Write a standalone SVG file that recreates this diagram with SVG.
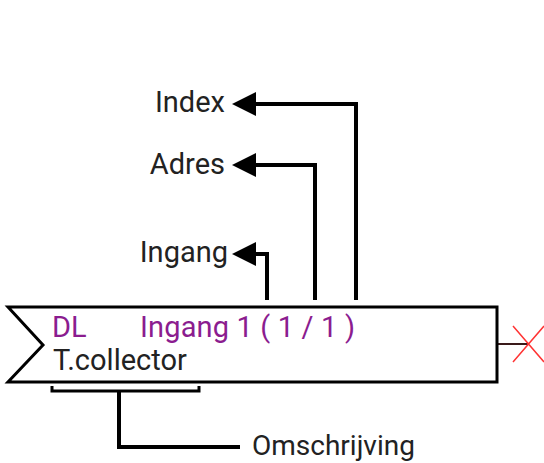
<svg xmlns="http://www.w3.org/2000/svg" width="544" height="463" viewBox="0 0 544 463">
<style>
text{font-family:Roboto,"Liberation Sans",sans-serif;font-size:29px}
.k{fill:#222}
.p{fill:#8b1c8f}
.ln{fill:none;stroke:#000;stroke-width:4}
</style>
<defs>
<marker id="ah" viewBox="0 0 10 10" refX="0" refY="5" markerWidth="6" markerHeight="6.5" markerUnits="strokeWidth" orient="auto">
<path d="M0,0 L10,5 L0,10 Z" fill="#000"/>
</marker>
</defs>
<rect width="544" height="463" fill="#fff"/>
<g id="connectors">
<path class="ln" d="M267,300 V254 H256" marker-end="url(#ah)"/>
<path class="ln" d="M315,300 V165 H256" marker-end="url(#ah)"/>
<path class="ln" d="M356,300 V104 H256" marker-end="url(#ah)"/>
<path d="M52,386 V391 H199 V386" fill="none" stroke="#000" stroke-width="3"/>
<path class="ln" d="M119,391 V447 H240"/>
<path d="M497,344 H528" stroke="#3a1a1a" stroke-width="2"/>
</g>
<g id="block">
<path d="M8,307 H497 V382 H8 L43,345 Z" fill="#fff" stroke="#000" stroke-width="3"/>
<text class="p" x="52" y="337">DL</text>
<text class="p" x="140" y="337" textLength="215">Ingang 1 ( 1 / 1 )</text>
<text class="k" x="53" y="370">T.collector</text>
</g>
<g id="output-x">
<path d="M513,326 L544,362 M513,362 L544,326" stroke="#f33" stroke-width="1.5"/>
</g>
<g id="label-index"><text class="k" x="225" y="112" text-anchor="end">Index</text></g>
<g id="label-adres"><text class="k" x="225" y="174" text-anchor="end">Adres</text></g>
<g id="label-ingang"><text class="k" x="228" y="262" text-anchor="end">Ingang</text></g>
<g id="label-omschrijving"><text class="k" x="252" y="455" style="font-size:28px">Omschrijving</text></g>
</svg>
